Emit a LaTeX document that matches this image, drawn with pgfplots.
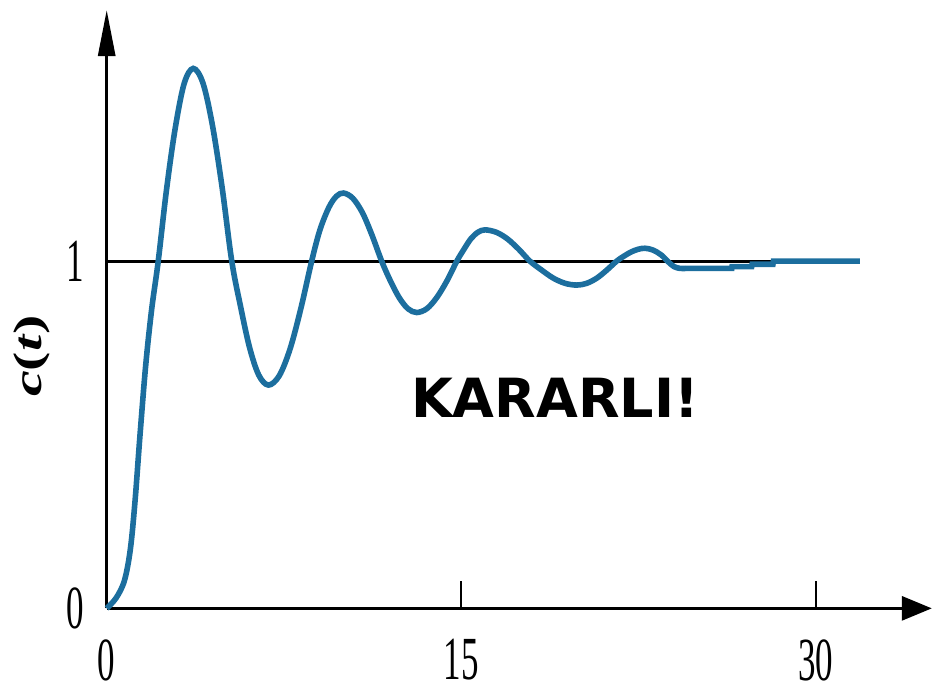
\documentclass[border=0pt]{standalone}
\usepackage{fontspec}
\setmainfont{Liberation Serif}
\newfontfamily\dejavu{DejaVu Sans}
\usepackage{pgfplots}
\pgfplotsset{compat=1.18}
\usetikzlibrary{arrows.meta}
\definecolor{curveblue}{RGB}{28,110,158}
\begin{document}
\begin{tikzpicture}
\begin{axis}[
  x=11.82pt, y=173.6pt,
  xmin=0, xmax=34.9, ymin=0, ymax=1.723,
  axis lines=left,
  axis line style={line width=1.5pt},
  x axis line style={-{Triangle[length=15pt,width=12pt]}},
  y axis line style={-{Triangle[length=23pt,width=8.5pt]}},
  clip=false,
  tick align=inside,
  xtick={0,15,30},
  xticklabels={\scalebox{1}[1.75]{0},\scalebox{1}[1.75]{15},\scalebox{1}[1.75]{30}},
  ytick={0,1},
  yticklabels={\scalebox{1}[1.75]{0},\scalebox{1}[1.75]{1}},
  major tick length=13.5pt,
  tick style={line width=1.1pt, black},
  ytick style={draw=none},
  tick label style={font=\fontsize{17.5}{20}\selectfont},
  xticklabel style={anchor=north, yshift=-12pt},
  yticklabel style={anchor=east, xshift=-8pt},
]
\addplot[black, line width=1.5pt] coordinates {(0,1) (31.8,1)};
\addplot[curveblue, line width=2.8pt, smooth, tension=0.55] coordinates {
(0,0) (0.4,0.03) (0.75,0.08) (1.0,0.17) (1.2,0.31) (1.41,0.50)
(1.65,0.70) (1.9,0.86) (2.18,1.0)
(2.52,1.20) (2.88,1.375) (3.27,1.51) (3.66,1.555)
(4.07,1.513) (4.47,1.392) (4.88,1.213) (5.29,1.0)
(5.66,0.870) (6.04,0.752) (6.43,0.672) (6.84,0.643)
(7.30,0.670) (7.76,0.748) (8.21,0.863) (8.67,1.0)
(9.02,1.09) (9.40,1.155) (9.72,1.187) (10.02,1.196)
(10.41,1.181) (10.82,1.139) (11.22,1.075) (11.63,1.0)
(12.0,0.943) (12.37,0.895) (12.74,0.863) (13.11,0.852)
(13.54,0.863) (13.96,0.895) (14.39,0.943) (14.81,1.0)
(15.11,1.034) (15.40,1.064) (15.70,1.083) (16.0,1.09)
(16.48,1.083) (16.95,1.064) (17.43,1.034) (17.9,1.0)
(18.4,0.974) (18.89,0.951) (19.39,0.936) (19.88,0.931)
(20.3,0.936) (20.73,0.951) (21.15,0.974) (21.57,1.0)
(21.87,1.014) (22.17,1.026) (22.47,1.034) (22.77,1.037)
(23.1,1.032) (23.45,1.018) (23.75,0.998) (24.0,0.984) (24.25,0.979) (24.5,0.979)
};
\addplot[curveblue, line width=2.8pt] coordinates {
(24.5,0.979) (26.44,0.979) (26.45,0.984) (27.28,0.984) (27.30,0.991)
(28.18,0.991) (28.2,1.0) (31.86,1.0)
};
\node[font=\fontsize{20}{24}\selectfont, rotate=90] at (axis cs:-3.16,0.727)
  {\scalebox{1.45}[1]{\textbf{\textit{c}(\textit{t})}}};
\node[font=\dejavu\bfseries\fontsize{27}{31}\selectfont] at (axis cs:18.96,0.606) {KARARLI!};
\coordinate (bl) at (axis cs:-4.513,-0.241);
\coordinate (tr) at (axis cs:34.95,1.752);
\end{axis}
\pgfresetboundingbox
\path[use as bounding box] (bl) rectangle (tr);
\end{tikzpicture}
\end{document}
